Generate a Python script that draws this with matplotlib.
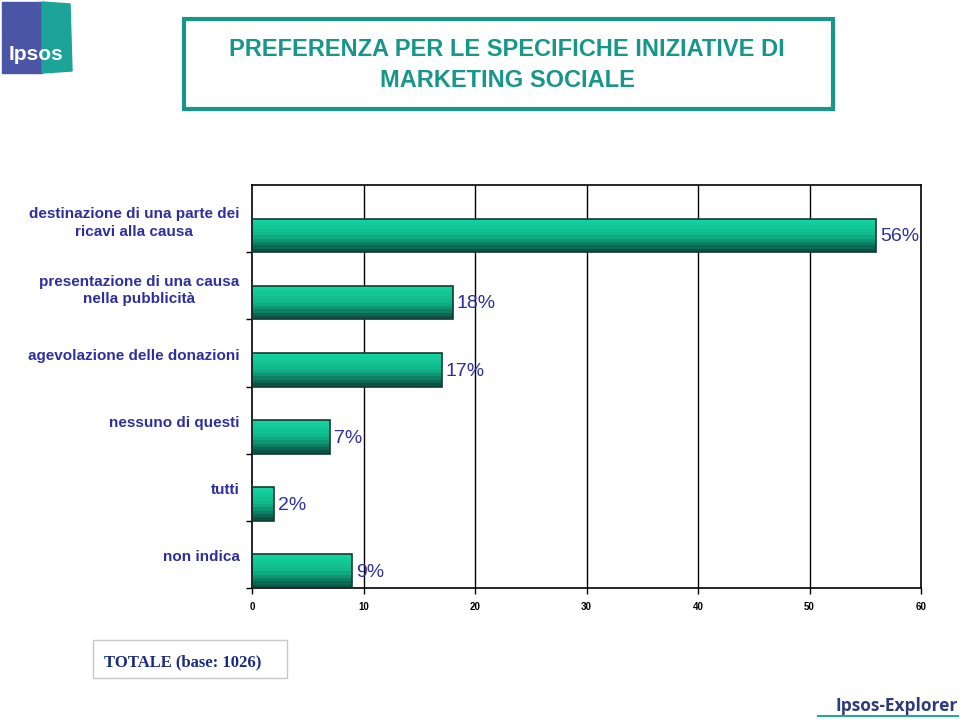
import numpy as np
import matplotlib.pyplot as plt
from matplotlib.patches import Rectangle, Polygon
from matplotlib.colors import LinearSegmentedColormap
from matplotlib.lines import Line2D

# Chart data
categories = ['destinazione di una parte dei\nricavi alla causa',
              'presentazione di una causa\nnella pubblicità',
              'agevolazione delle donazioni',
              'nessuno di questi',
              'tutti',
              'non indica']
values = [56, 18, 17, 7, 2, 9]
x_ticks = [0, 10, 20, 30, 40, 50, 60]

TITLE = 'PREFERENZA PER LE SPECIFICHE INIZIATIVE DI\nMARKETING SOCIALE'
BASE_TEXT = 'TOTALE (base: 1026)'

# Colours
TEAL = '#17968a'
LABEL_BLUE = '#2e2f9e'
BAR_LIGHT = '#13d3a0'
BAR_DARK = '#0a5444'
BAR_EDGE = '#163a30'

plt.rcParams['font.family'] = ['Liberation Sans', 'DejaVu Sans']

fig = plt.figure(figsize=(9.6, 7.2), dpi=100)
ax = fig.add_axes([252 / 960, 1 - 588 / 720, 669 / 960, 403 / 720])

n = len(categories)
y = np.arange(n)
bar_h = 0.5
n_stripes = 10
cmap = LinearSegmentedColormap.from_list('bar', [BAR_LIGHT, '#10b58a', BAR_DARK])

# Gradient bars built from horizontal stripes
for k in range(n_stripes):
    frac = k / (n_stripes - 1)
    offs = (k + 0.5) * bar_h / n_stripes
    ax.barh(y + offs, values, height=bar_h / n_stripes, color=cmap(frac),
            edgecolor='none', zorder=2)
ax.barh(y + bar_h / 2, values, height=bar_h, fill=False, edgecolor=BAR_EDGE,
        linewidth=1.2, zorder=3)

# Value labels
for yi, v in zip(y, values):
    ax.annotate(f'{v}%', (v, yi + bar_h / 2), xytext=(3, -1), textcoords='offset points',
                ha='left', va='center', fontsize=14, color=LABEL_BLUE, zorder=4)

ax.set_xlim(0, 60)
ax.set_ylim(n - 0.5, -0.5)
ax.set_xticks(x_ticks)
ax.set_xticklabels([str(t) for t in x_ticks], fontsize=7, fontweight='bold')
ax.tick_params(axis='x', length=4, width=1, pad=6, color='black')

ax.set_yticks(y + 0.02)
ax.set_yticklabels(categories, fontsize=11, color=LABEL_BLUE, fontweight='bold',
                   ha='right', multialignment='center', linespacing=1.35)
ax.tick_params(axis='y', which='major', length=0, pad=9)
ax.set_yticks(y + 0.5, minor=True)
ax.tick_params(axis='y', which='minor', length=4, width=1)

for xv in x_ticks[1:-1]:
    ax.axvline(xv, color='black', linewidth=1, zorder=1)
for sp in ax.spines.values():
    sp.set_color('black')
    sp.set_linewidth(1.2)

# Title box
fig.patches.append(Rectangle((184 / 960, 1 - 109 / 720), 649 / 960, 90 / 720,
                             transform=fig.transFigure, fill=False,
                             edgecolor=TEAL, linewidth=3))
fig.text(507 / 960, 1 - 65 / 720, TITLE, ha='center', va='center', fontsize=17,
         color=TEAL, fontweight='bold', linespacing=1.4)

# Ipsos logo
fig.patches.append(Rectangle((2 / 960, 1 - 73 / 720), 40 / 960, 71 / 720,
                             transform=fig.transFigure, color='#4a55a6'))
fig.patches.append(Polygon([(42 / 960, 1 - 73 / 720), (42 / 960, 1 - 2 / 720),
                            (70 / 960, 1 - 4 / 720), (72 / 960, 1 - 71 / 720)],
                           closed=True, transform=fig.transFigure, color='#1ba397'))
fig.text(36 / 960, 1 - 54 / 720, 'Ipsos', ha='center', va='center', fontsize=15,
         color='white', fontweight='bold')

# Base box
fig.patches.append(Rectangle((93 / 960, 1 - 678 / 720), 194 / 960, 38 / 720,
                             transform=fig.transFigure, fill=False,
                             edgecolor='#c8c8c8', linewidth=1))
fig.text(104 / 960, 1 - 662 / 720, BASE_TEXT, ha='left', va='center', fontsize=12,
         family='Liberation Serif', fontweight='bold', color='#1a2a80')

# Ipsos-Explorer footer
fig.text(958 / 960, 1 - 706 / 720, 'Ipsos-Explorer', ha='right', va='center',
         fontsize=12.5, color='#2d3b7a', family='Open Sans', fontweight='bold')
fig.lines.append(Line2D([818 / 960, 958 / 960], [1 - 716 / 720, 1 - 716 / 720],
                        transform=fig.transFigure, color='#2aa898', linewidth=1.5))

fig.savefig('out.png', dpi=100)
